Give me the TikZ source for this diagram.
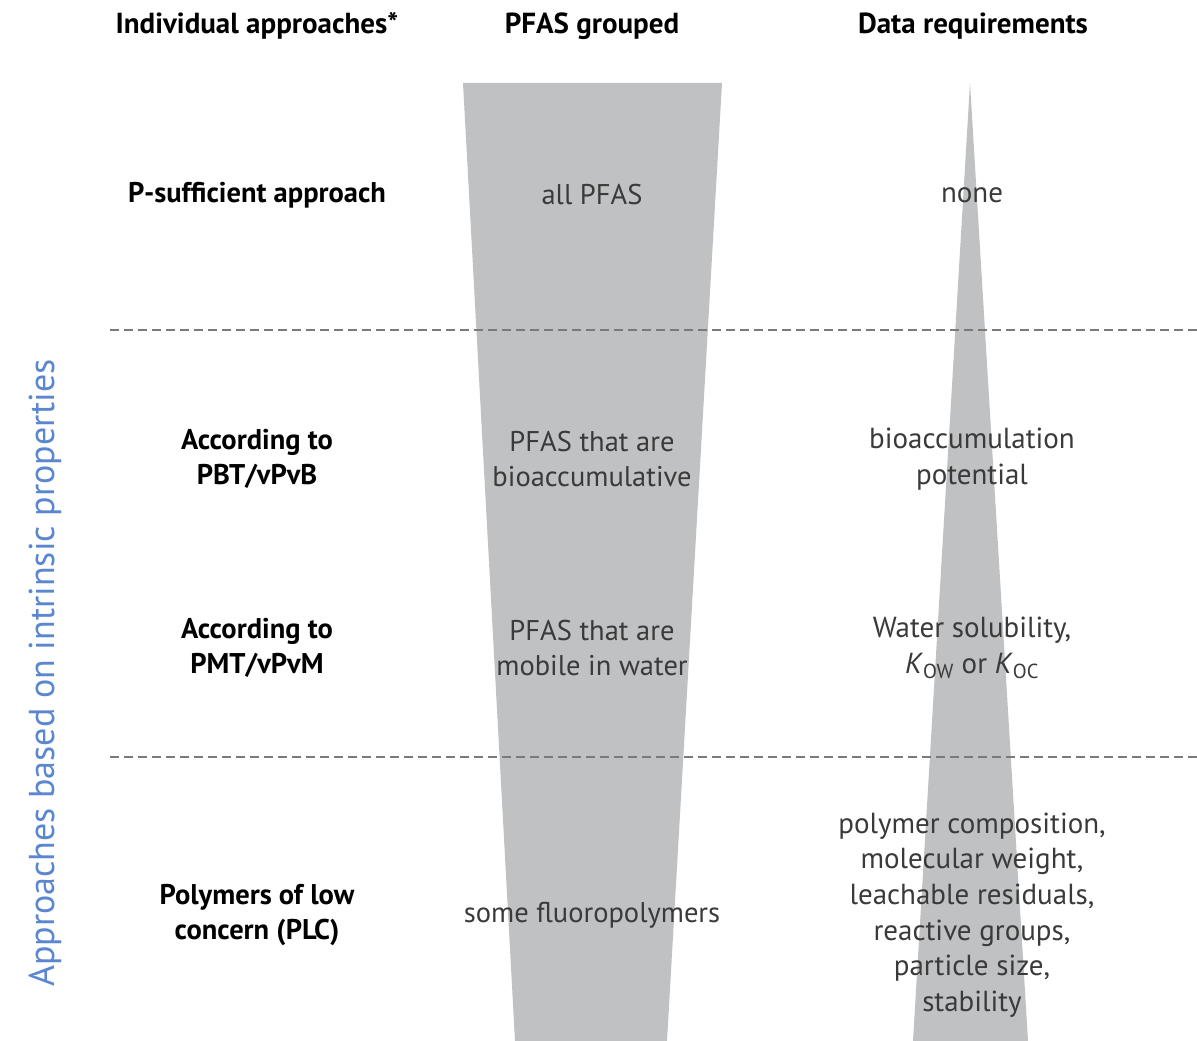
\documentclass[tikz,border=0pt]{standalone}
\usepackage{fontspec}
\setmainfont{PT Sans}
\usepackage{xcolor}
\usepackage{tikz}
\usetikzlibrary{positioning}
\definecolor{cBand}{HTML}{C0C1C3}
\definecolor{cSep}{HTML}{7A7A7A}
\definecolor{cTxt}{HTML}{3A3A3A}
\definecolor{cSide}{HTML}{5B86D0}

\begin{document}
\begin{tikzpicture}[x=1pt,y=-1pt,
  hd/.style={font=\fontsize{29}{34}\selectfont\bfseries,text=black,inner sep=0pt},
  appr/.style={align=center,font=\fontsize{28.5}{35.5}\selectfont\bfseries,text=black,inner sep=0pt},
  grp/.style={align=center,font=\fontsize{28.5}{35.5}\selectfont,text=cTxt,inner sep=0pt},
  req/.style={align=center,font=\fontsize{29}{35.6}\selectfont,text=cTxt,inner sep=0pt},
  band/.style={fill=cBand},
  sep/.style={draw=cSep,line width=2.4pt,dash pattern=on 9pt off 5pt}]
  \useasboundingbox[fill=white] (0,0) rectangle (1197,1041);
  % shaded wedges
  \fill[band] (463,83) -- (722,83) -- (667,1041) -- (515,1041) -- cycle;
  \fill[band] (970,83) -- (1028,1041) -- (913,1041) -- cycle;
  % separators
  \coordinate (s1a) at (110,330);
  \coordinate (s1b) at (1197,330);
  \coordinate (s2a) at (110,757);
  \coordinate (s2b) at (1197,757);
  \draw[sep] (s1a) -- (s1b);
  \draw[sep] (s2a) -- (s2b);
  % column heads
  \node[hd] (hInd) at (257,26) {Individual approaches*};
  \node[hd] (hGrp) at (592,26) {PFAS grouped};
  \node[hd] (hReq) at (973,26) {Data requirements};
  % rows
  \node[appr] (aP) at (257,195) {P-sufficient approach};
  \node[grp] (gP) at (592,195) {all PFAS};
  \node[req] (rP) at (972,195) {none};
  \node[appr] (aB) at (257,459) {According to\\PBT/vPvB};
  \node[grp] (gB) at (592,459) {PFAS that are\\bioaccumulative};
  \node[req] (rB) at (972,459) {bioaccumulation\\potential};
  \node[appr] (aM) at (257,648) {According to\\PMT/vPvM};
  \node[grp] (gM) at (592,648) {PFAS that are\\mobile in water};
  \node[req] (rM) at (972,648) {Water solubility,\\\textit{K}\textsubscript{OW} or \textit{K}\textsubscript{OC}};
  \node[appr] (aL) at (257,915) {Polymers of low\\concern (PLC)};
  \node[grp] (gL) at (592,915) {some fluoropolymers};
  \node[req] (rL) at (972,915) {polymer composition,\\molecular weight,\\leachable residuals,\\reactive groups,\\particle size,\\stability};
  % side label
  \node[rotate=90,font=\fontsize{36}{40}\selectfont,text=cSide,inner sep=0pt] (side) at (45,673) {Approaches based on intrinsic properties};
\end{tikzpicture}
\end{document}
